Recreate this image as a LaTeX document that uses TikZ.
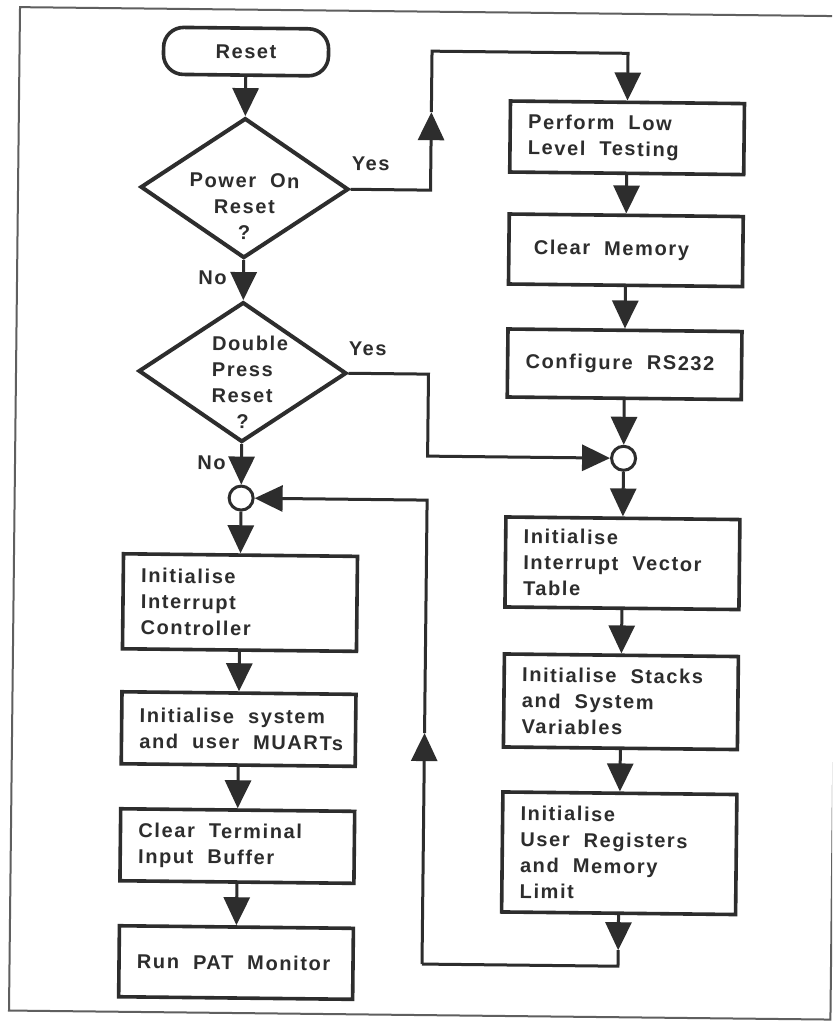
\documentclass[tikz,border=0pt]{standalone}
\usepackage{fontspec}
\usetikzlibrary{arrows.meta,shapes.geometric}
\newfontfamily\flowfam{Liberation Sans}[LetterSpace=8]
\newcommand\flow{\flowfam\bfseries\fontsize{10}{13}\selectfont}
\newcommand\wsp{\nobreak\hskip0.7em\relax}
\definecolor{ink}{RGB}{45,45,45}
\definecolor{framec}{RGB}{95,95,95}
\begin{document}
\begin{tikzpicture}[x=0.5pt,y=-0.5pt,
  frameline/.style={draw=framec, line width=1pt},
  box/.style={draw=ink, line width=1.8pt, fill=white, text=ink, font=\flow,
    text width=99pt, inner xsep=9pt, inner ysep=2pt, align=left},
  term/.style={draw=ink, line width=1.8pt, fill=white, text=ink, font=\flow,
    rounded corners=10pt, minimum width=82.5pt, minimum height=23.5pt},
  dia/.style={draw=ink, line width=2pt, shape=diamond, minimum width=104pt,
    minimum height=70pt, inner sep=0pt},
  dtext/.style={font=\flow, text=ink, inner sep=0pt},
  junc/.style={draw=ink, line width=1.5pt, circle, minimum size=12pt,
    inner sep=0pt, fill=white},
  conn/.style={draw=ink, line width=1.5pt},
  arr/.style={conn, -{Triangle[length=14pt,width=13pt]}},
  lab/.style={font=\flow, text=ink, inner sep=0pt}]
\useasboundingbox (0,0) rectangle (832,1021);
\clip (0,0) rectangle (832,1021);
\fill[white] (0,0) rectangle (832,1021);
\begin{scope}[rotate around={-0.63:(416,510)}, transform shape]
\draw[frameline] (14.5,11.5) rectangle (836,1015);

% left column
\node[term] (reset) at (241,53.5) {Reset};
\node[dia] (d1) at (241,190) {};
\node[dtext, align=center] (d1t) at (241,208.5) {Power\wsp On\\Reset\\?};
\node[dia] (d2) at (241,374) {};
\node[dtext, align=left, anchor=west] (d2t) at (210,384) {Double\\Press\\Reset\\\hspace*{12.5pt}?};
\node[junc] (cl) at (241,500) {};
\node[box, minimum height=47.5pt] (l1) at (241,604.5) {Initialise\\Interrupt\\Controller};
\node[box, minimum height=36pt] (l2) at (241,731) {Initialise\wsp system\\and\wsp user\wsp MUARTs};
\node[box, minimum height=36pt] (l3) at (241,848) {Clear\wsp Terminal\\Input\wsp Buffer};
\node[box, minimum height=35.5pt] (l4) at (241,964.5) {Run\wsp PAT\wsp Monitor};

% right column
\node[box, minimum height=35.5pt] (perf) at (623,135.5) {Perform\wsp Low\\Level\wsp Testing};
\node[box, minimum height=35pt] (clr) at (623,248) {\hspace*{3.5pt}Clear\wsp Memory};
\node[box, minimum height=34pt] (cfg) at (623,362) {Configure\wsp RS232};
\node[junc] (cr) at (623,456) {};
\node[box, minimum height=45pt] (r1) at (623,561) {Initialise\\Interrupt\wsp Vector\\Table};
\node[box, minimum height=46.5pt] (r2) at (623,699.5) {Initialise\wsp Stacks\\and\wsp System\\Variables};
\node[box, minimum height=60pt] (r3) at (623,851) {Initialise\\User\wsp Registers\\and\wsp Memory\\Limit};

% labels
\node[lab] (yes1) at (367,164.5) {Yes};
\node[lab] (yes2) at (366,349.5) {Yes};
\node[lab] (no1) at (210,280) {No};
\node[lab] (no2) at (211,465) {No};

% helper coordinates
\coordinate (y1tip) at (427,112);
\coordinate (y1top) at (623,51);
\coordinate (y2b) at (427,456);
\coordinate (r3tip) at (623,948);
\coordinate (lpb) at (427,964);
\coordinate (lptip) at (427,733);

% connectors
\draw[arr] (reset.south) -- (d1.north);
\draw[arr] (d1.east) -| (y1tip);
\draw[arr] (y1tip) |- (y1top) -- (perf.north);
\draw[arr] (perf.south) -- (clr.north);
\draw[arr] (clr.south) -- (cfg.north);
\draw[arr] (cfg.south) -- (cr.north);
\draw[arr] (cr.south) -- (r1.north);
\draw[arr] (r1.south) -- (r2.north);
\draw[arr] (r2.south) -- (r3.north);
\draw[arr] (r3.south) -- (r3tip);
\draw[conn] (r3tip) |- (lpb);
\draw[arr] (lpb) -- (lptip);
\draw[arr] (lptip) |- (cl.east);
\draw[arr] (d1.south) -- (d2.north);
\draw[arr] (d2.east) -| (y2b) -- (cr.west);
\draw[arr] (d2.south) -- (cl.north);
\draw[arr] (cl.south) -- (l1.north);
\draw[arr] (l1.south) -- (l2.north);
\draw[arr] (l2.south) -- (l3.north);
\draw[arr] (l3.south) -- (l4.north);
\end{scope}
\end{tikzpicture}
\end{document}
